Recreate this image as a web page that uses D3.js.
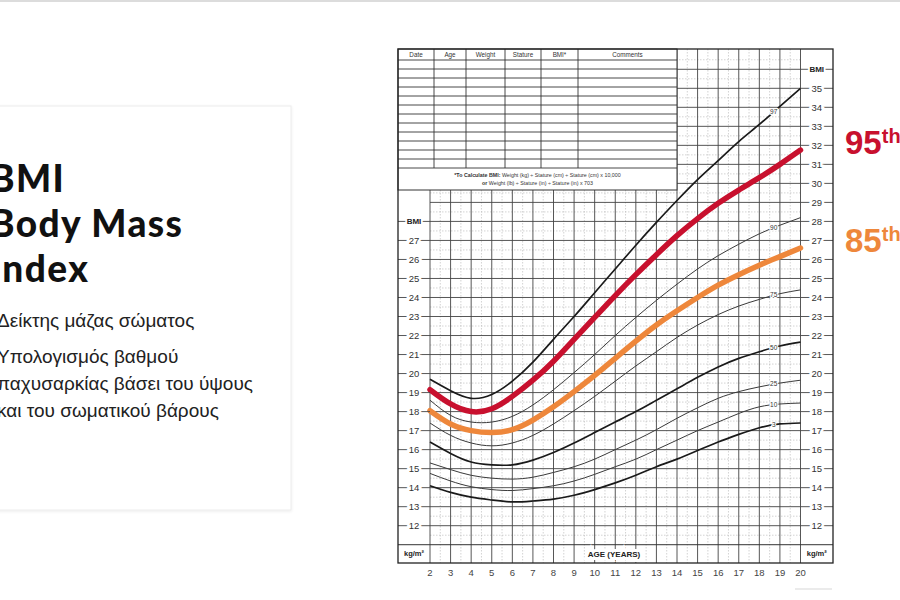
<!DOCTYPE html>
<html>
<head>
<meta charset="utf-8">
<script src="https://cdn.jsdelivr.net/npm/d3@7"></script>
<style>
body{margin:0;background:#fff;}
svg{display:block;}
</style>
</head>
<body>
<div id="chart"></div>
<script>
// ages and percentile curves (CDC BMI-for-age, girls 2-20)
var ages = [2,3,4,5,6,7,8,9,10,11,12,13,14,15,16,17,18,19,20];
var p3  = [14.1,13.75,13.5,13.35,13.25,13.3,13.4,13.6,13.9,14.25,14.65,15.1,15.5,15.95,16.4,16.8,17.15,17.35,17.4];
var p10 = [14.75,14.35,14.05,13.9,13.85,13.95,14.1,14.35,14.7,15.1,15.5,16.0,16.5,17.0,17.45,17.9,18.25,18.4,18.45];
var p25 = [15.3,14.95,14.65,14.5,14.45,14.55,14.8,15.1,15.5,16.0,16.5,17.05,17.65,18.2,18.7,19.05,19.3,19.5,19.65];
var p50 = [16.4,15.8,15.35,15.2,15.2,15.45,15.85,16.35,16.9,17.45,18.0,18.6,19.2,19.8,20.35,20.8,21.15,21.45,21.65];
var p75 = [17.4,16.75,16.35,16.2,16.35,16.75,17.35,18.05,18.8,19.6,20.4,21.15,21.9,22.55,23.1,23.55,23.9,24.2,24.4];
var p85 = [18.05,17.35,17.0,16.9,17.05,17.55,18.25,19.05,19.9,20.8,21.7,22.55,23.3,24.0,24.65,25.2,25.7,26.15,26.6];
var p90 = [18.6,17.8,17.45,17.45,17.75,18.35,19.15,20.05,21.0,22.0,22.95,23.85,24.7,25.5,26.2,26.8,27.35,27.8,28.2];
var p95 = [19.15,18.4,18.0,18.15,18.8,19.65,20.65,21.8,22.95,24.1,25.2,26.25,27.25,28.15,28.95,29.65,30.3,31.0,31.75];
var p97 = [19.7,19.1,18.7,18.9,19.6,20.6,21.8,23.0,24.25,25.5,26.75,27.95,29.1,30.2,31.2,32.2,33.1,34.05,35.0];

var leftTicks = [12,13,14,15,16,17,18,19,20,21,22,23,24,25,26,27];
var rightTicks = [12,13,14,15,16,17,18,19,20,21,22,23,24,25,26,27,28,29,30,31,32,33,34,35];
var tableCols = ["Date","Age","Weight","Stature","BMI*","Comments"];
var titleLines = ["BMI","Body Mass","Index"];
var bodyLines = ["Υπολογισμός βαθμού","παχυσαρκίας βάσει του ύψους","και του σωματικού βάρους"];

var curves = [
  {name:"97", v:p97, kind:"bold"},
  {name:"90", v:p90, kind:"thin"},
  {name:"75", v:p75, kind:"thin"},
  {name:"50", v:p50, kind:"bold"},
  {name:"25", v:p25, kind:"thin"},
  {name:"10", v:p10, kind:"thin"},
  {name:"3",  v:p3,  kind:"bold"}
];
var red = "#c8102e", orange = "#ee873b";

var svg = d3.select("#chart").append("svg")
  .attr("width",900).attr("height",600);

svg.append("rect").attr("x",0).attr("y",0).attr("width",900).attr("height",2).attr("fill","#dcdcdc");

// left card
var defs = svg.append("defs");
var f = defs.append("filter").attr("id","sh").attr("x","-10%").attr("y","-10%").attr("width","120%").attr("height","120%");
f.append("feDropShadow").attr("dx",0).attr("dy",1).attr("stdDeviation",1.5).attr("flood-color","#000").attr("flood-opacity",0.08);
svg.append("rect").attr("x",-10).attr("y",106).attr("width",301).attr("height",404)
  .attr("fill","#fff").attr("stroke","#ececec").attr("filter","url(#sh)");

svg.selectAll(".title").data(titleLines).enter().append("text")
  .attr("x",-10).attr("y",function(d,i){ return 192 + i*45; })
  .style("font-family","Lato, 'Open Sans', sans-serif").style("font-weight",900)
  .style("font-size","37px").style("letter-spacing","1.4px").attr("fill","#111")
  .text(function(d){ return d; });

svg.append("text").attr("x",-3).attr("y",327).text("Δείκτης μάζας σώματος")
  .style("font-family","'Liberation Sans', Arial, sans-serif").style("font-size","19px").attr("fill","#222");
svg.selectAll(".body").data(bodyLines).enter().append("text")
  .attr("x",-3).attr("y",function(d,i){ return 363 + i*27; })
  .text(function(d){ return d; })
  .style("font-family","'Liberation Sans', Arial, sans-serif").style("font-size","19px").attr("fill","#222");

// chart
var x = d3.scaleLinear().domain([2,20]).range([430,800.5]);
var y = d3.scaleLinear().domain([12,35]).range([525.7,88.3]);
var L = 398, R = 833, T = 49, B = 563, tabR = x(14), tabB = 190;

var g = svg.append("g").style("font-family","'Liberation Sans', Arial, sans-serif");
g.append("rect").attr("x",L).attr("y",T).attr("width",R-L).attr("height",B-T).attr("fill","#fff");

// minor grid
var halfAges = ages.slice(0,-1).map(function(a){ return a+0.5; });
g.selectAll(".mv").data(halfAges).enter().append("line")
  .attr("x1",x).attr("x2",x).attr("y1",T).attr("y2",B)
  .attr("stroke","#b5b5b5").attr("stroke-width",0.6).attr("stroke-dasharray","1.5,1.5");
var halfBmi = d3.range(11.5,37,1);
g.selectAll(".mh").data(halfBmi).enter().append("line")
  .attr("x1",x(2)).attr("x2",x(20)).attr("y1",y).attr("y2",y)
  .attr("stroke","#b5b5b5").attr("stroke-width",0.6).attr("stroke-dasharray","1.5,1.5");

// major grid
g.selectAll(".vv").data(ages).enter().append("line")
  .attr("x1",x).attr("x2",x).attr("y1",T).attr("y2",B)
  .attr("stroke","#444").attr("stroke-width",0.9);
g.selectAll(".hh").data(d3.range(12,37)).enter().append("line")
  .attr("x1",x(2)).attr("x2",x(20)).attr("y1",y).attr("y2",y)
  .attr("stroke","#444").attr("stroke-width",0.9);
g.append("line").attr("x1",L).attr("x2",R).attr("y1",y(11)).attr("y2",y(11))
  .attr("stroke","#333").attr("stroke-width",1);

// record table
g.append("rect").attr("x",L).attr("y",T).attr("width",tabR-L).attr("height",tabB-T)
  .attr("fill","#fff").attr("stroke","#333").attr("stroke-width",1);
var colX = [L,434,466,505,541,578,tabR];
var rowY = d3.range(60,169,9);
g.selectAll(".tr").data(rowY).enter().append("line")
  .attr("x1",L).attr("x2",tabR).attr("y1",function(d){return d;}).attr("y2",function(d){return d;})
  .attr("stroke","#333").attr("stroke-width",0.9);
g.selectAll(".tc").data(colX.slice(1,-1)).enter().append("line")
  .attr("x1",function(d){return d;}).attr("x2",function(d){return d;}).attr("y1",T).attr("y2",168)
  .attr("stroke","#333").attr("stroke-width",0.9);
g.selectAll(".th").data(tableCols).enter().append("text")
  .attr("x",function(d,i){ return (colX[i]+colX[i+1])/2; }).attr("y",57)
  .attr("text-anchor","middle").style("font-size","6.3px").attr("fill","#333")
  .text(function(d){return d;});
var note = g.append("text").attr("x",(L+tabR)/2).attr("y",177).attr("text-anchor","middle")
  .style("font-size","5.3px").attr("fill","#333");
note.append("tspan").style("font-weight","bold").text("*To Calculate BMI: ");
note.append("tspan").text("Weight (kg) ÷ Stature (cm) ÷ Stature (cm) x 10,000");
var note2 = g.append("text").attr("x",(L+tabR)/2).attr("y",185).attr("text-anchor","middle")
  .style("font-size","5.3px").attr("fill","#333");
note2.append("tspan").style("font-weight","bold").text("or ");
note2.append("tspan").text("Weight (lb) ÷ Stature (in) ÷ Stature (in) x 703");

// percentile curves
var line = d3.line().x(function(d){return x(d[0]);}).y(function(d){return y(d[1]);}).curve(d3.curveNatural);
function pts(v){ return ages.map(function(a,i){ return [a, v[i]]; }); }
g.selectAll(".pc").data(curves).enter().append("path")
  .attr("d",function(d){ return line(pts(d.v)); })
  .attr("fill","none").attr("stroke",function(d){ return d.kind=="bold" ? "#1a1a1a" : "#3a3a3a"; })
  .attr("stroke-width",function(d){ return d.kind=="bold" ? 1.7 : 1; });
g.selectAll(".pl").data(curves).enter().append("text")
  .attr("x",x(18.7)).attr("y",function(d){ return y(d.v[16] + (d.v[17]-d.v[16])*0.7) + 2; })
  .attr("text-anchor","middle").style("font-size","6.5px").attr("fill","#333")
  .attr("stroke","#fff").attr("stroke-width",2).style("paint-order","stroke")
  .text(function(d){ return d.name; });

g.append("path").attr("d",line(pts(p85))).attr("fill","none").attr("stroke",orange)
  .attr("stroke-width",5.5).attr("stroke-linecap","round");
g.append("path").attr("d",line(pts(p95))).attr("fill","none").attr("stroke",red)
  .attr("stroke-width",5.5).attr("stroke-linecap","round");

// BMI axes (both sides)
function axisCol(ticks, x0, x1, topLabelValue){
  g.selectAll(null).data(ticks).enter().append("line")
    .attr("x1",x0).attr("x2",x1).attr("y1",y).attr("y2",y)
    .attr("stroke","#444").attr("stroke-width",0.9);
  g.selectAll(null).data(ticks).enter().append("text")
    .attr("x",(x0+x1)/2).attr("y",function(d){ return y(d)+3.3; })
    .attr("text-anchor","middle").style("font-size","9.5px").attr("fill","#333")
    .attr("stroke","#fff").attr("stroke-width",5).style("paint-order","stroke")
    .text(function(d){return d;});
  g.append("line").attr("x1",x0).attr("x2",x1).attr("y1",y(topLabelValue)).attr("y2",y(topLabelValue))
    .attr("stroke","#444").attr("stroke-width",0.9);
  g.append("text").attr("x",(x0+x1)/2).attr("y",y(topLabelValue)+3)
    .attr("text-anchor","middle").style("font-size","8px").style("font-weight","bold").attr("fill","#222")
    .attr("stroke","#fff").attr("stroke-width",4).style("paint-order","stroke")
    .text("BMI");
}
axisCol(leftTicks, L, x(2), 28);
axisCol(rightTicks, x(20), R, 36);

// bottom row labels
g.append("text").attr("x",(L+x(2))/2).attr("y",556).attr("text-anchor","middle")
  .style("font-size","7.5px").style("font-weight","bold").attr("fill","#222").html("kg/m²");
g.append("text").attr("x",(x(20)+R)/2).attr("y",556).attr("text-anchor","middle")
  .style("font-size","7.5px").style("font-weight","bold").attr("fill","#222").html("kg/m²");
g.append("text").attr("x",614).attr("y",557).attr("text-anchor","middle")
  .style("font-size","8px").style("font-weight","bold").attr("fill","#222")
  .attr("stroke","#fff").attr("stroke-width",6).style("paint-order","stroke")
  .text("AGE (YEARS)");

// frame
g.append("rect").attr("x",L).attr("y",T).attr("width",R-L).attr("height",B-T)
  .attr("fill","none").attr("stroke","#222").attr("stroke-width",1.3);

// age tick labels
g.selectAll(".al").data(ages).enter().append("text")
  .attr("x",x).attr("y",576).attr("text-anchor","middle")
  .style("font-size","9.5px").attr("fill","#444").text(function(d){return d;});
svg.append("line").attr("x1",795).attr("x2",832).attr("y1",589).attr("y2",589)
  .attr("stroke","#e4e4e4").attr("stroke-width",1.5);

// highlighted percentile labels
function pctLabel(txt, color, yy){
  var t = svg.append("text").attr("x",845).attr("y",yy)
    .style("font-family","'Liberation Sans', Arial, sans-serif").style("font-weight","bold")
    .style("font-size","33px").attr("fill",color);
  t.append("tspan").text(txt);
  t.append("tspan").attr("dy",-11).style("font-size","20px").text("th");
}
pctLabel("95", red, 154);
pctLabel("85", orange, 252);
</script>
</body>
</html>
